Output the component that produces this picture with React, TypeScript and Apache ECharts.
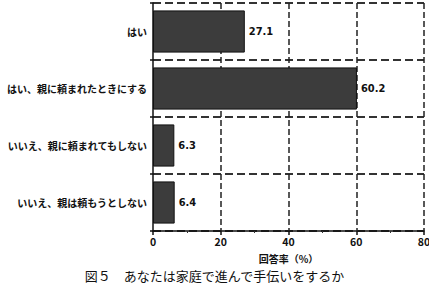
import React, { useEffect, useRef } from "react";
import * as echarts from "echarts";

const categories = [
  "はい",
  "はい、親に頼まれたときにする",
  "いいえ、親に頼まれてもしない",
  "いいえ、親は頼もうとしない",
];
const values = [27.1, 60.2, 6.3, 6.4];
const xTicks = [0, 20, 40, 60, 80];
const xAxisName = "回答率（%）";
const title = "図５　あなたは家庭で進んで手伝いをするか";

export default function App() {
  const ref = useRef<HTMLDivElement>(null);
  useEffect(() => {
    if (!ref.current) return;
    const chart = echarts.init(ref.current, null, { renderer: "svg" });
    const font = "'Noto Sans CJK JP', sans-serif";
    chart.setOption({
      animation: false,
      backgroundColor: "#ffffff",
      textStyle: { fontFamily: font },
      title: {
        text: title,
        left: "center",
        top: 268,
        padding: 0,
        textStyle: { fontFamily: font, fontSize: 13, lineHeight: 15, fontWeight: "normal", color: "#111" },
      },
      grid: { left: 153, right: 5, top: 3, bottom: 55, outerBoundsMode: "none", containLabel: false },
      xAxis: {
        type: "value",
        min: xTicks[0],
        max: xTicks[xTicks.length - 1],
        interval: 20,
        name: xAxisName,
        nameLocation: "middle",
        nameGap: 22,
        nameTextStyle: { fontFamily: font, fontSize: 10, fontWeight: "bold", color: "#111" },
        axisLine: { show: true, lineStyle: { color: "#111", width: 1.5 } },
        axisTick: { show: true, inside: false, length: 4, lineStyle: { color: "#111", width: 1.5 } },
        minorTick: { show: true, splitNumber: 2, length: 2, lineStyle: { color: "#333" } },
        axisLabel: { fontFamily: font, fontSize: 10.5, fontWeight: "bold", color: "#111", margin: 5 },
        splitLine: { show: false },
      },
      yAxis: {
        type: "category",
        data: categories,
        inverse: true,
        axisLine: { show: true, lineStyle: { color: "#111", width: 1.5 } },
        axisTick: { show: true, length: 3, lineStyle: { color: "#111", width: 1.5 } },
        axisLabel: { fontFamily: font, fontSize: 10, fontWeight: "bold", color: "#111", margin: 6 },
        splitLine: { show: true, lineStyle: { color: "#333", type: "dashed", width: 2 } },
      },
      series: [
        {
          type: "bar",
          data: values,
          barWidth: "74%",
          z: 3,
          itemStyle: { color: "#3c3c3c", borderColor: "#111", borderWidth: 1 },
          label: {
            show: true,
            position: "right",
            distance: 4,
            fontFamily: "'DejaVu Sans Condensed', 'Liberation Sans Narrow', sans-serif",
            fontSize: 11,
            fontWeight: "bold",
            color: "#111",
            formatter: (p: any) => p.value.toFixed(1),
          },
          markLine: {
            silent: true,
            symbol: "none",
            z: 1,
            label: { show: false },
            lineStyle: { color: "#222", type: "dashed", width: 1.5 },
            data: xTicks.slice(1).map((v) => ({ xAxis: v })),
          },
        },
      ],
    });
    return () => chart.dispose();
  }, []);
  return (
    <div
      ref={ref}
      style={{ position: "fixed", left: 0, top: 0, width: 429, height: 286 }}
    />
  );
}
